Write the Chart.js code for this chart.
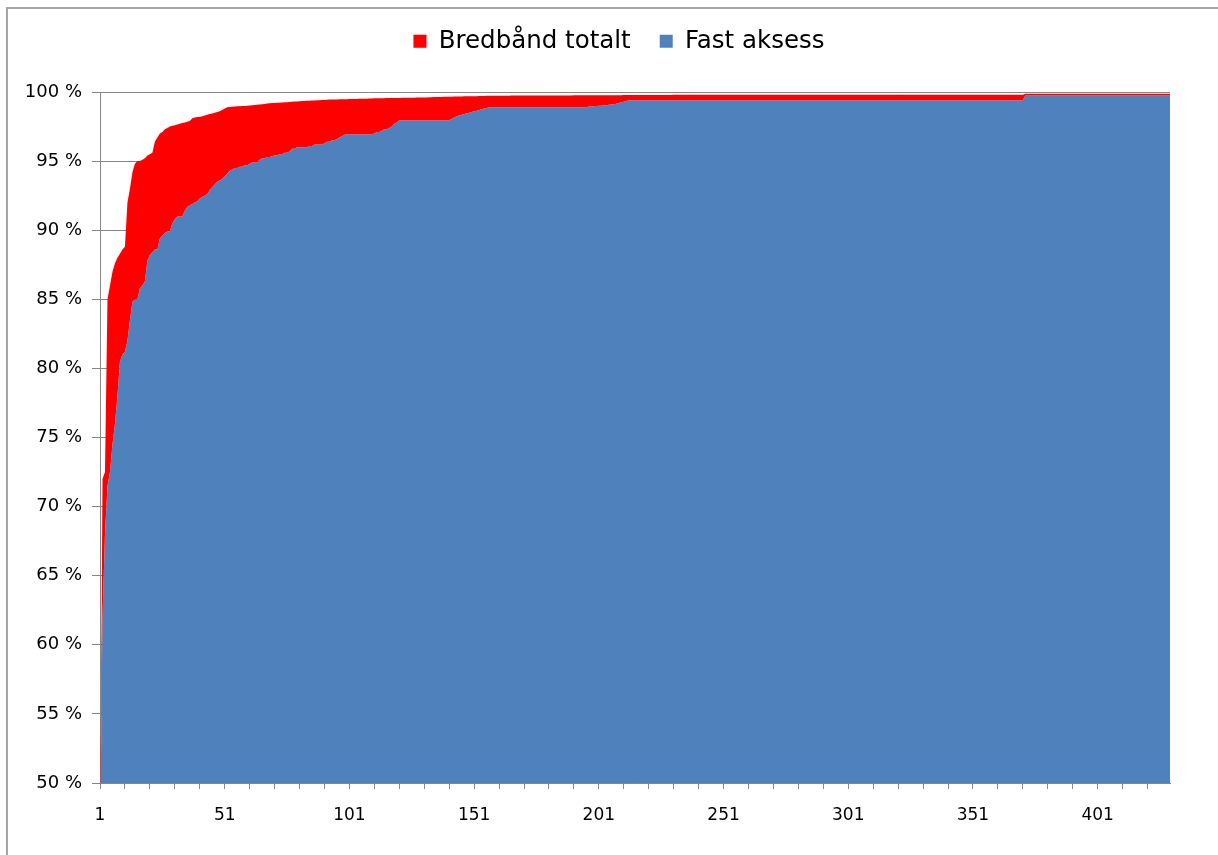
<!DOCTYPE html>
<html>
<head>
<meta charset="utf-8">
<script src="https://cdn.jsdelivr.net/npm/chart.js@4.4.1/dist/chart.umd.min.js"></script>
<style>
  html, body { margin: 0; padding: 0; background: #fff; overflow: hidden; }
  #frame { position: absolute; left: 6px; top: 7px; width: 1400px; height: 1000px;
           border-left: 2px solid #a6a6a6; border-top: 2px solid #a6a6a6; }
  #wrap { position: absolute; left: 0; top: 0; width: 1218px; height: 855px; }
</style>
</head>
<body>
<div id="frame"></div>
<div id="wrap"><canvas id="graph"></canvas></div>
<script>
// rank of each municipality, 1..430
var categories = Array.from({length: 430}, function (_, i) { return String(i + 1) })
var xTickLabels = ["1", "51", "101", "151", "201", "251", "301", "351", "401"]

// share of households (%) - sorted
var bredbandTotalt = [
  45, 72, 72.5, 85, 86, 87, 87.6, 88, 88.3, 88.6,
  88.8, 92, 93, 94.2, 94.8, 95, 95, 95.1, 95.2, 95.4,
  95.5, 95.6, 96.4, 96.7, 97, 97.1, 97.3, 97.4, 97.5, 97.55,
  97.6, 97.65, 97.7, 97.75, 97.8, 97.85, 97.9, 98.1, 98.15, 98.2,
  98.2, 98.25, 98.3, 98.35, 98.4, 98.45, 98.5, 98.55, 98.6, 98.7,
  98.8, 98.9, 98.92, 98.94, 98.95, 98.96, 98.97, 98.98, 98.99, 99,
  99.02, 99.04, 99.06, 99.08, 99.1, 99.12, 99.14, 99.16, 99.18, 99.2,
  99.21, 99.22, 99.23, 99.24, 99.25, 99.26, 99.28, 99.3, 99.31, 99.32,
  99.33, 99.34, 99.35, 99.36, 99.37, 99.38, 99.39, 99.4, 99.41, 99.42,
  99.43, 99.44, 99.45, 99.45, 99.46, 99.46, 99.47, 99.47, 99.48, 99.48,
  99.49, 99.49, 99.5, 99.5, 99.51, 99.51, 99.52, 99.52, 99.53, 99.53,
  99.54, 99.54, 99.55, 99.55, 99.55, 99.56, 99.56, 99.56, 99.57, 99.57,
  99.57, 99.58, 99.58, 99.58, 99.59, 99.59, 99.59, 99.6, 99.6, 99.6,
  99.61, 99.61, 99.62, 99.62, 99.63, 99.63, 99.64, 99.64, 99.65, 99.65,
  99.66, 99.66, 99.67, 99.67, 99.68, 99.68, 99.69, 99.69, 99.7, 99.7,
  99.7, 99.7, 99.71, 99.71, 99.71, 99.72, 99.72, 99.72, 99.72, 99.73,
  99.73, 99.73, 99.73, 99.73, 99.73, 99.74, 99.74, 99.74, 99.74, 99.74,
  99.74, 99.74, 99.74, 99.74, 99.74, 99.75, 99.75, 99.75, 99.75, 99.75,
  99.75, 99.75, 99.75, 99.75, 99.75, 99.75, 99.75, 99.75, 99.75, 99.75,
  99.76, 99.76, 99.76, 99.76, 99.76, 99.76, 99.76, 99.76, 99.76, 99.76,
  99.77, 99.77, 99.77, 99.77, 99.77, 99.77, 99.77, 99.77, 99.77, 99.77,
  99.78, 99.78, 99.78, 99.78, 99.78, 99.78, 99.78, 99.78, 99.78, 99.78,
  99.79, 99.79, 99.79, 99.79, 99.79, 99.79, 99.79, 99.79, 99.79, 99.79,
  99.8, 99.8, 99.8, 99.8, 99.8, 99.8, 99.8, 99.8, 99.8, 99.8,
  99.8, 99.8, 99.8, 99.8, 99.8, 99.8, 99.8, 99.8, 99.8, 99.8,
  99.8, 99.8, 99.8, 99.8, 99.8, 99.8, 99.8, 99.8, 99.8, 99.8,
  99.8, 99.8, 99.8, 99.8, 99.8, 99.8, 99.8, 99.8, 99.8, 99.8,
  99.8, 99.8, 99.8, 99.8, 99.8, 99.8, 99.8, 99.8, 99.8, 99.8,
  99.8, 99.8, 99.8, 99.8, 99.8, 99.8, 99.8, 99.8, 99.8, 99.8,
  99.8, 99.8, 99.8, 99.8, 99.8, 99.8, 99.8, 99.8, 99.8, 99.8,
  99.8, 99.8, 99.8, 99.8, 99.8, 99.8, 99.8, 99.8, 99.8, 99.8,
  99.8, 99.8, 99.8, 99.8, 99.8, 99.8, 99.8, 99.8, 99.8, 99.8,
  99.8, 99.8, 99.8, 99.8, 99.8, 99.8, 99.8, 99.8, 99.8, 99.8,
  99.8, 99.8, 99.8, 99.8, 99.8, 99.8, 99.8, 99.8, 99.8, 99.8,
  99.8, 99.8, 99.8, 99.8, 99.8, 99.8, 99.8, 99.8, 99.8, 99.8,
  99.8, 99.8, 99.8, 99.8, 99.8, 99.8, 99.8, 99.8, 99.8, 99.8,
  99.8, 99.8, 99.8, 99.8, 99.8, 99.8, 99.8, 99.8, 99.8, 99.8,
  99.8, 99.87, 99.87, 99.87, 99.87, 99.87, 99.87, 99.87, 99.87, 99.87,
  99.87, 99.87, 99.87, 99.87, 99.87, 99.87, 99.87, 99.87, 99.87, 99.87,
  99.87, 99.87, 99.87, 99.87, 99.87, 99.87, 99.87, 99.87, 99.87, 99.87,
  99.87, 99.87, 99.87, 99.87, 99.87, 99.87, 99.87, 99.87, 99.87, 99.87,
  99.87, 99.87, 99.87, 99.87, 99.87, 99.87, 99.87, 99.87, 99.87, 99.87,
  99.87, 99.87, 99.87, 99.87, 99.87, 99.87, 99.87, 99.87, 99.87, 99.87
]

var fastAksess = [
  45, 62, 68, 71.5, 72.5, 74.5, 76, 78, 80.5, 81,
  81.2, 82, 83.5, 84.8, 85, 85, 85.8, 86, 86.3, 87.8,
  88.2, 88.4, 88.6, 88.6, 89.4, 89.6, 89.8, 89.9, 89.9, 90.5,
  90.8, 91, 91, 91, 91.4, 91.7, 91.8, 91.9, 92, 92.1,
  92.3, 92.4, 92.5, 92.6, 92.9, 93.1, 93.3, 93.5, 93.6, 93.7,
  93.9, 94.1, 94.3, 94.4, 94.5, 94.5, 94.6, 94.6, 94.7, 94.7,
  94.8, 94.9, 94.9, 94.9, 95.1, 95.2, 95.2, 95.3, 95.3, 95.35,
  95.4, 95.4, 95.5, 95.5, 95.6, 95.6, 95.7, 95.9, 95.9, 96,
  96, 96, 96, 96, 96.1, 96.1, 96.2, 96.2, 96.2, 96.2,
  96.3, 96.4, 96.4, 96.5, 96.5, 96.6, 96.7, 96.8, 96.9, 96.95,
  96.95, 96.95, 96.95, 96.95, 96.95, 96.95, 96.95, 96.95, 96.95, 96.95,
  97, 97.1, 97.1, 97.2, 97.3, 97.3, 97.4, 97.5, 97.7, 97.8,
  97.95, 97.95, 97.95, 97.95, 97.95, 97.95, 97.95, 97.95, 97.95, 97.95,
  97.95, 97.95, 97.95, 97.95, 97.95, 97.95, 97.95, 97.95, 97.95, 97.95,
  97.95, 98.05, 98.15, 98.25, 98.3, 98.35, 98.4, 98.45, 98.5, 98.55,
  98.6, 98.65, 98.7, 98.75, 98.8, 98.85, 98.9, 98.9, 98.9, 98.9,
  98.9, 98.9, 98.9, 98.9, 98.9, 98.9, 98.9, 98.9, 98.9, 98.9,
  98.9, 98.9, 98.9, 98.9, 98.9, 98.9, 98.9, 98.9, 98.9, 98.9,
  98.9, 98.9, 98.9, 98.9, 98.9, 98.9, 98.9, 98.9, 98.9, 98.9,
  98.9, 98.9, 98.9, 98.9, 98.9, 98.9, 98.95, 98.95, 98.97, 98.98,
  99, 99, 99.02, 99.05, 99.07, 99.1, 99.12, 99.15, 99.2, 99.25,
  99.3, 99.35, 99.4, 99.4, 99.4, 99.4, 99.4, 99.4, 99.4, 99.4,
  99.4, 99.4, 99.4, 99.4, 99.4, 99.4, 99.4, 99.4, 99.4, 99.4,
  99.4, 99.4, 99.4, 99.4, 99.4, 99.4, 99.4, 99.4, 99.4, 99.4,
  99.4, 99.4, 99.4, 99.4, 99.4, 99.4, 99.4, 99.4, 99.4, 99.4,
  99.4, 99.4, 99.4, 99.4, 99.4, 99.4, 99.4, 99.4, 99.4, 99.4,
  99.4, 99.4, 99.4, 99.4, 99.4, 99.4, 99.4, 99.4, 99.4, 99.4,
  99.4, 99.4, 99.4, 99.4, 99.4, 99.4, 99.4, 99.4, 99.4, 99.4,
  99.4, 99.4, 99.4, 99.4, 99.4, 99.4, 99.4, 99.4, 99.4, 99.4,
  99.4, 99.4, 99.4, 99.4, 99.4, 99.4, 99.4, 99.4, 99.4, 99.4,
  99.4, 99.4, 99.4, 99.4, 99.4, 99.4, 99.4, 99.4, 99.4, 99.4,
  99.4, 99.4, 99.4, 99.4, 99.4, 99.4, 99.4, 99.4, 99.4, 99.4,
  99.4, 99.4, 99.4, 99.4, 99.4, 99.4, 99.4, 99.4, 99.4, 99.4,
  99.4, 99.4, 99.4, 99.4, 99.4, 99.4, 99.4, 99.4, 99.4, 99.4,
  99.4, 99.4, 99.4, 99.4, 99.4, 99.4, 99.4, 99.4, 99.4, 99.4,
  99.4, 99.4, 99.4, 99.4, 99.4, 99.4, 99.4, 99.4, 99.4, 99.4,
  99.4, 99.4, 99.4, 99.4, 99.4, 99.4, 99.4, 99.4, 99.4, 99.4,
  99.4, 99.75, 99.75, 99.75, 99.75, 99.75, 99.75, 99.75, 99.75, 99.75,
  99.75, 99.75, 99.75, 99.75, 99.75, 99.75, 99.75, 99.75, 99.75, 99.75,
  99.75, 99.75, 99.75, 99.75, 99.75, 99.75, 99.75, 99.75, 99.75, 99.75,
  99.75, 99.75, 99.75, 99.75, 99.75, 99.75, 99.75, 99.75, 99.75, 99.75,
  99.75, 99.75, 99.75, 99.75, 99.75, 99.75, 99.75, 99.75, 99.75, 99.75,
  99.75, 99.75, 99.75, 99.75, 99.75, 99.75, 99.75, 99.75, 99.75, 99.75
]

var axisGrey = "#868686"

// legend fills the strip above the plot, centred like the original
var legendPlace = {
    id: "legendPlace",
    beforeInit: function (chart) {
        var fit = chart.legend.fit
        chart.legend.fit = function () {
            fit.bind(chart.legend)()
            this.height = 92
        }
    },
    afterLayout: function (chart) {
        chart.legend.left = 68
    }
}

new Chart("graph", {
    type: "line",
    data: {
        labels: categories,
        datasets: [{
            label: "Bredbånd totalt",
            data: bredbandTotalt,
            backgroundColor: "#ff0000",
            borderWidth: 0,
            pointRadius: 0,
            fill: "+1"
        }, {
            label: "Fast aksess",
            data: fastAksess,
            backgroundColor: "#4f81bd",
            borderWidth: 0,
            pointRadius: 0,
            fill: "start"
        }]
    },
    options: {
        responsive: true,
        maintainAspectRatio: false,
        animation: false,
        layout: { padding: { left: 10, right: 48, top: 0, bottom: 0 } },
        plugins: {
            tooltip: { enabled: false },
            legend: {
                position: "top",
                labels: {
                    boxWidth: 13,
                    boxHeight: 13,
                    padding: 29,
                    color: "#000",
                    font: { family: "DejaVu Sans", size: 24.5 }
                }
            }
        },
        scales: {
            x: {
                type: "category",
                offset: false,
                afterFit: function (scale) { scale.height = 72 },
                border: { color: axisGrey, width: 1 },
                grid: {
                    drawOnChartArea: false,
                    drawTicks: true,
                    tickLength: 6,
                    color: function (ctx) { return ctx.index % 10 === 0 ? axisGrey : "rgba(0,0,0,0)" }
                },
                ticks: {
                    autoSkip: false,
                    maxRotation: 0,
                    padding: 16,
                    color: "#000",
                    font: { family: "DejaVu Sans", size: 17 },
                    callback: function (value) {
                        var lbl = this.getLabelForValue(value)
                        return xTickLabels.indexOf(lbl) >= 0 ? lbl : ""
                    }
                }
            },
            y: {
                min: 50,
                max: 100,
                afterFit: function (scale) { scale.width = 90 },
                border: { color: axisGrey, width: 1 },
                grid: { color: axisGrey, tickLength: 8 },
                ticks: {
                    stepSize: 5,
                    padding: 10,
                    color: "#000",
                    font: { family: "DejaVu Sans", size: 18 },
                    callback: function (v) { return v + " %" }
                }
            }
        }
    },
    plugins: [legendPlace]
})
</script>
</body>
</html>
